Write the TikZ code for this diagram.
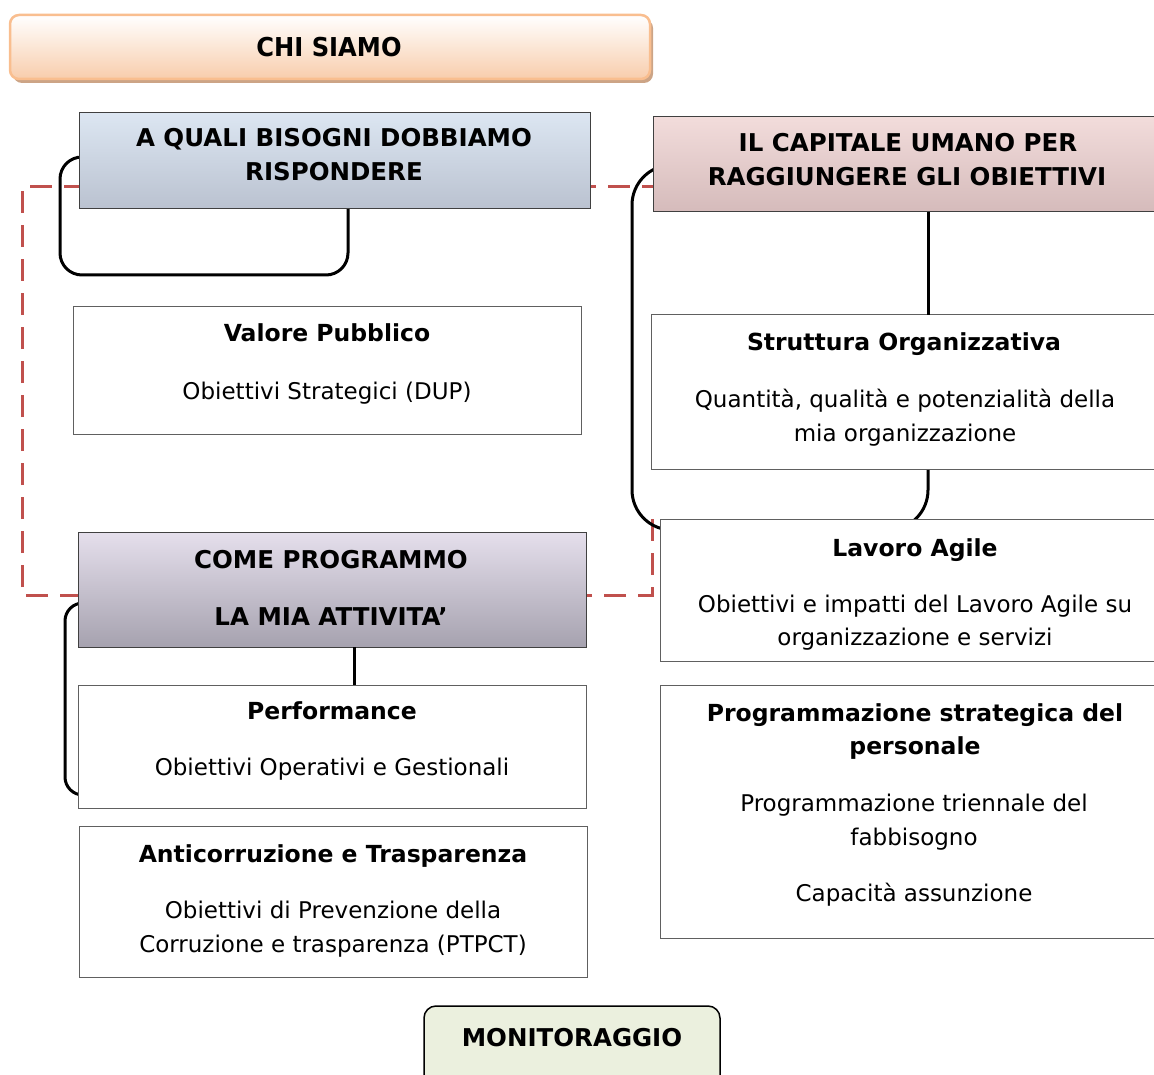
\documentclass[tikz,border=0pt]{standalone}
\usepackage{fontspec}
\setmainfont{DejaVu Sans}
\newfontfamily\chifont[FakeStretch=0.93]{DejaVu Sans}
\usetikzlibrary{calc,backgrounds,shadows}
\definecolor{reddash}{HTML}{C0504D}
\definecolor{boxline}{HTML}{606060}
\begin{document}
\begin{tikzpicture}[x=1pt,y=-1pt,
  box/.style={draw=boxline, line width=1pt, fill=white, inner sep=0pt, outer sep=0pt, anchor=north west},
  hbox/.style={box, draw=black!75},
  txt/.style={inner sep=0pt, text height=16.8pt, text depth=0pt, font=\fontsize{23}{28}\selectfont},
  ttl/.style={inner sep=0pt, text height=17.1pt, text depth=0pt, font=\fontsize{23.5}{28}\selectfont\bfseries},
  hdr/.style={inner sep=0pt, text height=17.9pt, text depth=0pt, font=\fontsize{24.5}{30}\selectfont\bfseries},
  loopline/.style={line width=3pt, black, rounded corners=22pt},
  conn/.style={line width=3pt, black},
  redline/.style={line width=3pt, reddash, dash pattern=on 22pt off 12pt}
]
\useasboundingbox (0,0) rectangle (1154,1075);
\clip (0,0) rectangle (1154,1075);

% header boxes
\node[box, rounded corners=9pt, draw={rgb,255:red,249;green,190;blue,143}, line width=2.5pt,
  top color=white, bottom color={rgb,255:red,248;green,205;blue,172},
  drop shadow={shadow xshift=3pt, shadow yshift=-4pt, fill={rgb,255:red,204;green,164;blue,134}, opacity=1},
  minimum width=640, minimum height=64] (chi) at (10,15) {};
\node[inner sep=0pt, text height=19pt, text depth=0pt, font=\fontsize{26}{30}\chifont\bfseries] (chit) at (329,47) {CHI SIAMO};

\node[hbox, top color={rgb,255:red,220;green,230;blue,242}, bottom color={rgb,255:red,186;green,194;blue,208},
  minimum width=511, minimum height=96] (aq) at (79,113) {};
\node[hdr] (aq1) at (334,138) {A QUALI BISOGNI DOBBIAMO};
\node[hdr] (aq2) at (334,172) {RISPONDERE};

\node[hbox, top color={rgb,255:red,242;green,220;blue,219}, bottom color={rgb,255:red,213;green,187;blue,187},
  minimum width=520, minimum height=95] (cap) at (653,117) {};
\node[hdr] (cap1) at (908,143) {IL CAPITALE UMANO PER};
\node[hdr] (cap2) at (907,177) {RAGGIUNGERE GLI OBIETTIVI};

% Valore pubblico
\node[box, minimum width=508, minimum height=127] (vp) at (73,307) {};
\node[ttl] (vp1) at (327,333) {Valore Pubblico};
\node[txt] (vp2) at (327,391) {Obiettivi Strategici (DUP)};

% Struttura
\node[box, minimum width=520, minimum height=154] (str) at (651,315) {};
\node[ttl] (str1) at (904,342) {Struttura Organizzativa};
\node[txt] (str2) at (905,399) {Quantità, qualità e potenzialità della};
\node[txt] (str3) at (905,433) {mia organizzazione};

% Lavoro agile
\node[box, minimum width=520, minimum height=142] (lav) at (660,519) {};
\node[ttl] (lav1) at (915,548) {Lavoro Agile};
\node[txt] (lav2) at (915,604) {Obiettivi e impatti del Lavoro Agile su};
\node[txt] (lav3) at (915,637) {organizzazione e servizi};

% Come programmo
\node[hbox, top color={rgb,255:red,229;green,223;blue,236}, bottom color={rgb,255:red,166;green,162;blue,175},
  minimum width=508, minimum height=115] (come) at (78,532) {};
\node[hdr] (come1) at (331,560) {COME PROGRAMMO};
\node[hdr] (come2) at (331,617) {LA MIA ATTIVITA’};

% Performance
\node[box, minimum width=508, minimum height=123] (perf) at (78,685) {};
\node[ttl] (perf1) at (332,711) {Performance};
\node[txt] (perf2) at (332,767) {Obiettivi Operativi e Gestionali};

% Anticorruzione
\node[box, minimum width=508, minimum height=151] (anti) at (79,826) {};
\node[ttl] (anti1) at (333,854) {Anticorruzione e Trasparenza};
\node[txt] (anti2) at (333,910) {Obiettivi di Prevenzione della};
\node[txt] (anti3) at (333,944) {Corruzione e trasparenza (PTPCT)};

% Programmazione
\node[box, minimum width=520, minimum height=253] (prog) at (660,685) {};
\node[ttl] (prog1) at (915,713) {Programmazione strategica del};
\node[ttl] (prog2) at (915,746) {personale};
\node[txt] (prog3) at (914,803) {Programmazione triennale del};
\node[txt] (prog4) at (914,837) {fabbisogno};
\node[txt] (prog5) at (914,893) {Capacità assunzione};

% Monitoraggio
\node[box, draw=black, line width=1.5pt, rounded corners=12pt, fill={rgb,255:red,235;green,240;blue,222},
  minimum width=296, minimum height=95] (mon) at (424,1006) {};
\node[hdr] (mon1) at (572,1038) {MONITORAGGIO};

% connectors
\draw[conn] ($(cap.south west)+(275,0)$) -- ($(str.north west)+(277,0)$);
\draw[conn] ($(come.south west)+(276,0)$) -- ($(perf.north west)+(276,0)$);

\begin{scope}[on background layer]
  \coordinate (d1) at (22,187);
  \coordinate (d2) at (22,595);
  \draw[redline] ($(lav.north west)+(-8,0)$) -- ($(lav.north west)+(-8,76)$) -- (d2) -- (d1) -- ($(cap.north west)+(0,70)$);
  \draw[loopline] ($(aq.north west)+(0,44)$) -- ++(-19,0) |- ($(aq.south west)+(269,66)$) -- ($(aq.south west)+(269,0)$);
  \draw[loopline, rounded corners=40pt] ($(cap.north west)+(0,48)$) -- ++(-21,0) |- ($(str.south west)+(277,61)$) -- ($(str.south west)+(277,0)$);
  \draw[loopline, rounded corners=18pt] ($(come.north west)+(0,71)$) -- ++(-13,0) |- ($(perf.north west)+(0,110)$);
\end{scope}
\end{tikzpicture}
\end{document}
